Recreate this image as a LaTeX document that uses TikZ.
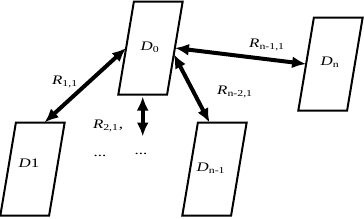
\documentclass[tikz,border=0pt]{standalone}
\usepackage{amsmath, amssymb}
\usepackage{fontspec}
\setmainfont{Liberation Serif}
\usepackage{tikz}
\usetikzlibrary{shapes.geometric}
\usetikzlibrary{arrows.meta,calc,positioning}

\begin{document}
\begin{tikzpicture}[x=1pt, y=-1pt,
    subdom/.style={draw, line width=2pt, trapezium, trapezium left angle=80.5,
      trapezium right angle=99.5, inner xsep=16.6pt, inner ysep=46.5pt, outer sep=0pt},
    link/.style={arrows={Latex[length=14pt,width=12pt]-Latex[length=14pt,width=12pt]}, line width=4pt},
    lbl/.style={font=\fontsize{13}{15}\selectfont, inner sep=0pt, xscale=1.3, transform shape}]
            \useasboundingbox (0,0) rectangle (364,218);
            % Draw the domains
            \node[subdom] (D0) at (150.5,48) {};
            \node[subdom] (D1) at (32.5,169) {};
            \node[subdom] (Dn1) at (214.5,169) {};
            \node[subdom] (Dn) at (330.5,64) {};
            % Name the domains
            \node[lbl] (t0) at (150,47) {\textit{D}\textsubscript{0}};
            \node[lbl] (t1) at (29,163) {\textit{D}1};
            \node[lbl] (tn1) at (211,168) {\textit{D}\textsubscript{n-1}};
            \node[lbl] (tn) at (330,62) {\textit{D}\textsubscript{n}};
            % Free end of the vertical link
            \coordinate (D0b) at ($(D0.bottom left corner)!.5!(D0.bottom right corner)$);
            \coordinate (r2end) at ($(D0b)+(0,42)$);
            % Draw the links
            \draw[link] ([xshift=12pt]D1.north) -- (D0.west);
            \draw[link] (D0.east) -- (Dn.west);
            \draw[link] (D0.-15) -- ([xshift=-5pt]Dn1.north);
            \draw[link] ([yshift=-2pt]D0b) -- (r2end);
            % Label the links
            \node[lbl] (r11) at (65,82) {\textit{R}\textsubscript{1,1}};
            \node[lbl] (rn11) at (267,45) {\textit{R}\textsubscript{n-1,1}};
            \node[lbl] (rn21) at (235,92) {\textit{R}\textsubscript{n-2,1}};
            \node[lbl] (r21) at (108,126) {\textit{R}\textsubscript{2,1},};
            \node[lbl] (dots1) at (100,156) {...};
            \node[lbl] (dots2) at (141,154) {...};
          \end{tikzpicture}
\end{document}
